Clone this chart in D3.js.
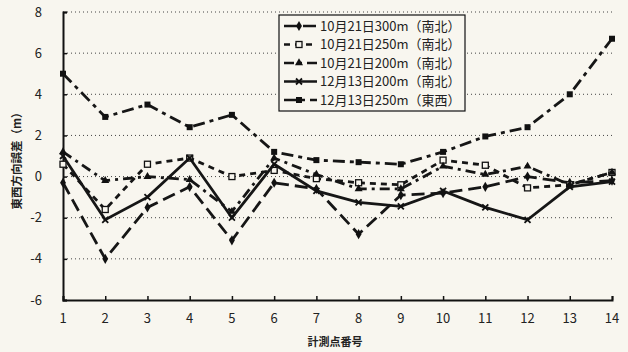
<!DOCTYPE html>
<html>
<head>
<meta charset="utf-8">
<script src="https://cdn.jsdelivr.net/npm/d3@7"></script>
<style>
  html, body { margin: 0; padding: 0; background: #f8f6ef; }
  svg { display: block; font-family: "Noto Sans CJK JP", "Noto Sans", sans-serif; }
</style>
</head>
<body>
<div class="chart"></div>
<script>
(function() {
  var width = 628, height = 352;

  // measuring points 1..14
  var points = [1, 2, 3, 4, 5, 6, 7, 8, 9, 10, 11, 12, 13, 14];
  var yTicks = [-6, -4, -2, 0, 2, 4, 6, 8];

  var seriesNames = [
    "10月21日300m（南北）",
    "10月21日250m（南北）",
    "10月21日200m（南北）",
    "12月13日200m（南北）",
    "12月13日250m（東西）"
  ];
  var oct300 = [-0.3, -4.0, -1.5, -0.5, -3.1, -0.3, -0.6, -2.8, -0.9, -0.8, -0.5, 0.0, -0.3, -0.2];
  var oct250 = [0.6, -1.6, 0.6, 0.9, 0.0, 0.3, -0.1, -0.3, -0.4, 0.8, 0.55, -0.55, -0.4, 0.2];
  var oct200 = [1.2, -0.2, 0.0, -0.15, -1.7, 0.9, 0.1, -0.6, -0.6, 0.5, 0.1, 0.5, -0.4, 0.2];
  var dec200 = [1.0, -2.1, -1.0, 0.9, -2.0, 0.6, -0.7, -1.25, -1.45, -0.7, -1.5, -2.1, -0.5, -0.25];
  var dec250 = [5.0, 2.9, 3.5, 2.4, 3.0, 1.2, 0.8, 0.7, 0.6, 1.2, 1.95, 2.4, 4.0, 6.7];

  var seriesValues = [oct300, oct250, oct200, dec200, dec250];
  var dashes = ["13,6", "6,5", "10,5,3,5", null, "12,5,4,5"];
  var markers = ["diamond", "openSquare", "triangle", "cross", "square"];

  var svg = d3.select(".chart").append("svg")
    .attr("width", width)
    .attr("height", height);

  var x = d3.scaleLinear().domain([1, 14]).range([63, 612]);
  var y = d3.scaleLinear().domain([-6, 8]).range([300, 12]);

  // dotted grid
  svg.append("g").selectAll("line")
    .data(yTicks.filter(function(d) { return d > -6; }))
    .enter().append("line")
      .attr("x1", x(1)).attr("x2", x(14))
      .attr("y1", function(d) { return y(d); })
      .attr("y2", function(d) { return y(d); })
      .attr("stroke", "#444")
      .attr("stroke-width", 1)
      .attr("stroke-dasharray", "1,3");

  // y axis
  var yAxis = svg.append("g")
    .attr("transform", "translate(" + x(1) + ",0)")
    .call(d3.axisRight(y).tickValues(yTicks).tickSize(4).tickFormat(""));
  yAxis.select(".domain").attr("stroke", "#111").attr("stroke-width", 2);
  yAxis.selectAll(".tick line").attr("stroke", "#111").attr("stroke-width", 1.5);

  svg.append("g").selectAll("text")
    .data(yTicks)
    .enter().append("text")
      .attr("x", 42)
      .attr("y", function(d) { return y(d); })
      .attr("dy", "0.35em")
      .attr("text-anchor", "end")
      .attr("font-size", 13)
      .attr("fill", "#222")
      .text(function(d) { return d; });

  // x axis
  var xAxis = svg.append("g")
    .attr("transform", "translate(0," + y(-6) + ")")
    .call(d3.axisTop(x).tickValues(points).tickSize(4).tickFormat(""));
  xAxis.select(".domain").attr("stroke", "#111").attr("stroke-width", 2);
  xAxis.selectAll(".tick line").attr("stroke", "#111").attr("stroke-width", 1.5);

  svg.append("g").selectAll("text")
    .data(points)
    .enter().append("text")
      .attr("x", function(d) { return x(d); })
      .attr("y", 323)
      .attr("text-anchor", "middle")
      .attr("font-size", 13)
      .attr("fill", "#222")
      .text(function(d) { return d; });

  svg.append("text")
    .attr("x", 335)
    .attr("y", 346)
    .attr("text-anchor", "middle")
    .attr("font-size", 11)
    .attr("font-weight", "bold")
    .attr("fill", "#222")
    .text("計測点番号");

  svg.append("text")
    .attr("transform", "translate(21,158) rotate(-90)")
    .attr("text-anchor", "middle")
    .attr("font-size", 11.5)
    .attr("font-weight", "bold")
    .attr("fill", "#222")
    .text("東西方向誤差（m）");

  function drawMarker(sel, type) {
    if (type === "cross") {
      sel.append("path").attr("d", "M-3,-3L3,3M-3,3L3,-3")
        .attr("stroke", "#111").attr("stroke-width", 1.8).attr("fill", "none");
    } else if (type === "openSquare") {
      sel.append("rect").attr("x", -3).attr("y", -3).attr("width", 6).attr("height", 6)
        .attr("fill", "#f8f6ef").attr("stroke", "#111").attr("stroke-width", 1.3);
    } else if (type === "square") {
      sel.append("rect").attr("x", -3).attr("y", -3).attr("width", 6).attr("height", 6)
        .attr("fill", "#111");
    } else if (type === "diamond") {
      sel.append("path").attr("d", d3.symbol(d3.symbolDiamond, 30)()).attr("fill", "#111");
    } else {
      sel.append("path").attr("d", d3.symbol(d3.symbolTriangle, 28)()).attr("fill", "#111");
    }
  }

  var line = d3.line()
    .x(function(d, i) { return x(points[i]); })
    .y(function(d) { return y(d); });

  seriesValues.forEach(function(vals, k) {
    var g = svg.append("g").attr("class", "series s" + k);
    g.append("path")
      .attr("d", line(vals))
      .attr("fill", "none")
      .attr("stroke", "#161616")
      .attr("stroke-width", 2.8)
      .attr("stroke-dasharray", dashes[k]);
    g.selectAll("g.m")
      .data(vals)
      .enter().append("g")
        .attr("class", "m")
        .attr("transform", function(d, i) { return "translate(" + x(points[i]) + "," + y(d) + ")"; })
        .each(function() { drawMarker(d3.select(this), markers[k]); });
  });

  // legend
  var lg = svg.append("g").attr("transform", "translate(279,15)");
  lg.append("rect")
    .attr("width", 186).attr("height", 96)
    .attr("fill", "#f8f6ef")
    .attr("stroke", "#111").attr("stroke-width", 1.2);
  var rows = lg.selectAll("g.row")
    .data(seriesNames)
    .enter().append("g")
      .attr("class", "row")
      .attr("transform", function(d, i) { return "translate(0," + (11 + i * 18.5) + ")"; });
  rows.append("line")
    .attr("x1", 5).attr("x2", 38)
    .attr("stroke", "#161616").attr("stroke-width", 2.6)
    .attr("stroke-dasharray", function(d, i) { return dashes[i]; });
  rows.append("g")
    .attr("transform", "translate(20,0)")
    .each(function(d, i) { drawMarker(d3.select(this), markers[i]); });
  rows.append("text")
    .attr("x", 41)
    .attr("dy", "0.36em")
    .attr("font-size", 13)
    .attr("fill", "#222")
    .text(function(d) { return d; });
})();
</script>
</body>
</html>
